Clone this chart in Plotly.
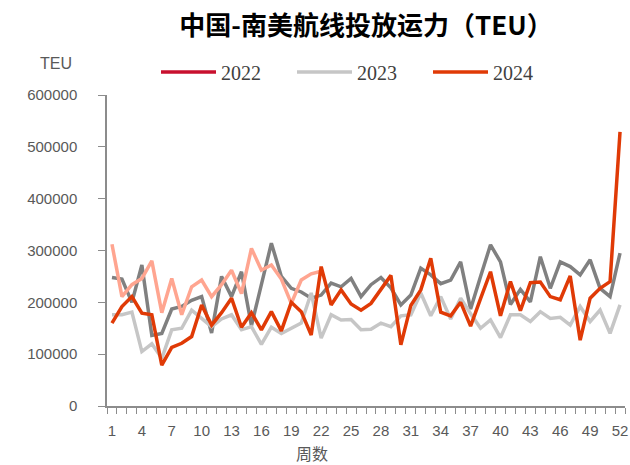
import plotly.graph_objects as go

weeks = list(range(1, 53))
tick_weeks = list(range(1, 53, 3))

# dark gray series (not in legend)
series_dark = [248000, 245000, 200000, 272000, 136000, 140000, 187000, 192000, 204000, 211000,
               141000, 250000, 211000, 259000, 155000, 238000, 314000, 250000, 227000, 220000,
               208000, 214000, 237000, 230000, 246000, 211000, 234000, 248000, 228000, 195000,
               214000, 266000, 253000, 236000, 243000, 278000, 187000, 250000, 311000, 278000,
               196000, 225000, 201000, 288000, 227000, 278000, 269000, 253000, 282000, 227000,
               211000, 295000]
# salmon series (weeks 1-22, not in legend)
series_salmon = [312000, 211000, 234000, 246000, 280000, 180000, 246000, 176000, 230000, 243000,
                 211000, 234000, 262000, 217000, 304000, 262000, 272000, 245000, 198000, 243000,
                 255000, 260000]
values_2022 = []
values_2023 = [176000, 176000, 181000, 105000, 120000, 92000, 147000, 150000, 185000, 169000,
               153000, 168000, 176000, 147000, 153000, 119000, 152000, 140000, 150000, 160000,
               218000, 131000, 176000, 166000, 167000, 147000, 148000, 160000, 153000, 174000,
               176000, 218000, 174000, 211000, 168000, 208000, 178000, 150000, 166000, 132000,
               176000, 176000, 163000, 182000, 169000, 171000, 156000, 192000, 163000, 185000,
               140000, 195000]
values_2024 = [160000, 192000, 211000, 179000, 176000, 79000, 113000, 121000, 134000, 195000,
               156000, 180000, 208000, 152000, 180000, 147000, 182000, 145000, 200000, 182000,
               137000, 269000, 195000, 224000, 197000, 185000, 198000, 225000, 252000, 118000,
               194000, 224000, 285000, 181000, 174000, 200000, 154000, 207000, 259000, 174000,
               240000, 184000, 238000, 239000, 211000, 205000, 251000, 127000, 208000, 227000,
               240000, 529000]

C_DARK = "#808080"
C_SALMON = "#FFA590"
C_2022 = "#C8102E"
C_2023 = "#C6C6C6"
C_2024 = "#E03A06"

fig = go.Figure()
fig.add_trace(go.Scatter(x=weeks, y=series_dark, mode="lines", showlegend=False,
                         line=dict(color=C_DARK, width=3.5)))
fig.add_trace(go.Scatter(x=weeks[:len(series_salmon)], y=series_salmon, mode="lines", showlegend=False,
                         line=dict(color=C_SALMON, width=3.5)))
fig.add_trace(go.Scatter(x=weeks[:len(values_2022)] or [None], y=values_2022 or [None], mode="lines",
                         name="2022", line=dict(color=C_2022, width=3.5)))
fig.add_trace(go.Scatter(x=weeks, y=values_2023, mode="lines", name="2023",
                         line=dict(color=C_2023, width=3.5)))
fig.add_trace(go.Scatter(x=weeks, y=values_2024, mode="lines", name="2024",
                         line=dict(color=C_2024, width=3.5)))

axis_color = "#8C8C8C"
tick_font = dict(family="Liberation Sans, Arial, sans-serif", size=15, color="#595959")

W, H = 630, 465
L, R, T, B = 107, 5, 95, 59
PW, PH = W - L - R, H - T - B

fig.update_layout(
    width=W, height=H,
    margin=dict(l=L, r=R, t=T, b=B, autoexpand=False),
    paper_bgcolor="white", plot_bgcolor="white",
    hovermode=False,
    title=dict(text="<b>中国-南美航线投放运力（TEU）</b>", x=366 / W, xanchor="center", y=1 - 26 / H,
               yanchor="middle",
               font=dict(family="Noto Sans CJK SC, sans-serif", size=26, color="#000000")),
    legend=dict(orientation="h", x=(156 - L) / PW, y=1 + (T - 72) / PH, xanchor="left", yanchor="middle",
                font=dict(family="Liberation Serif, Times New Roman, serif", size=20, color="#404040"),
                itemwidth=55, entrywidthmode="pixels", entrywidth=66,
                bgcolor="rgba(0,0,0,0)"),
    xaxis=dict(range=[0.5, 52.5], tickvals=tick_weeks, ticktext=[str(w) for w in tick_weeks],
               ticks="", showgrid=False, zeroline=False, showline=True, linecolor=axis_color, linewidth=1.5,
               tickfont=tick_font, tickangle=0, automargin=False, ticklabelstandoff=10,
               minor=dict(ticks="outside", tickvals=[w + 0.5 for w in range(0, 53)], ticklen=6,
                          tickcolor=axis_color, tickwidth=1.2, showgrid=False)),
    yaxis=dict(range=[0, 600000], dtick=100000, tickformat="d", ticks="outside", ticklen=7,
               tickcolor=axis_color, tickwidth=1.2, showgrid=False, zeroline=False, showline=True,
               linecolor=axis_color, linewidth=1.5, tickfont=tick_font, ticklabelstandoff=18, automargin=False),
)
fig.add_annotation(text="TEU", xref="paper", yref="paper", x=(56 - L) / PW, y=1 + (T - 64) / PH,
                   xanchor="center", yanchor="middle", showarrow=False,
                   font=dict(family="Liberation Sans, Arial, sans-serif", size=16, color="#595959"))
fig.add_annotation(text="周数", xref="paper", yref="paper", x=(312 - L) / PW, y=-(453 - (H - B)) / PH,
                   xanchor="center", yanchor="middle", showarrow=False,
                   font=dict(family="Noto Sans CJK SC, sans-serif", size=16, color="#595959"))

fig.write_html("out.html", config={"displayModeBar": False},
               post_script="document.body.style.margin='0';document.body.style.overflow='hidden';")
